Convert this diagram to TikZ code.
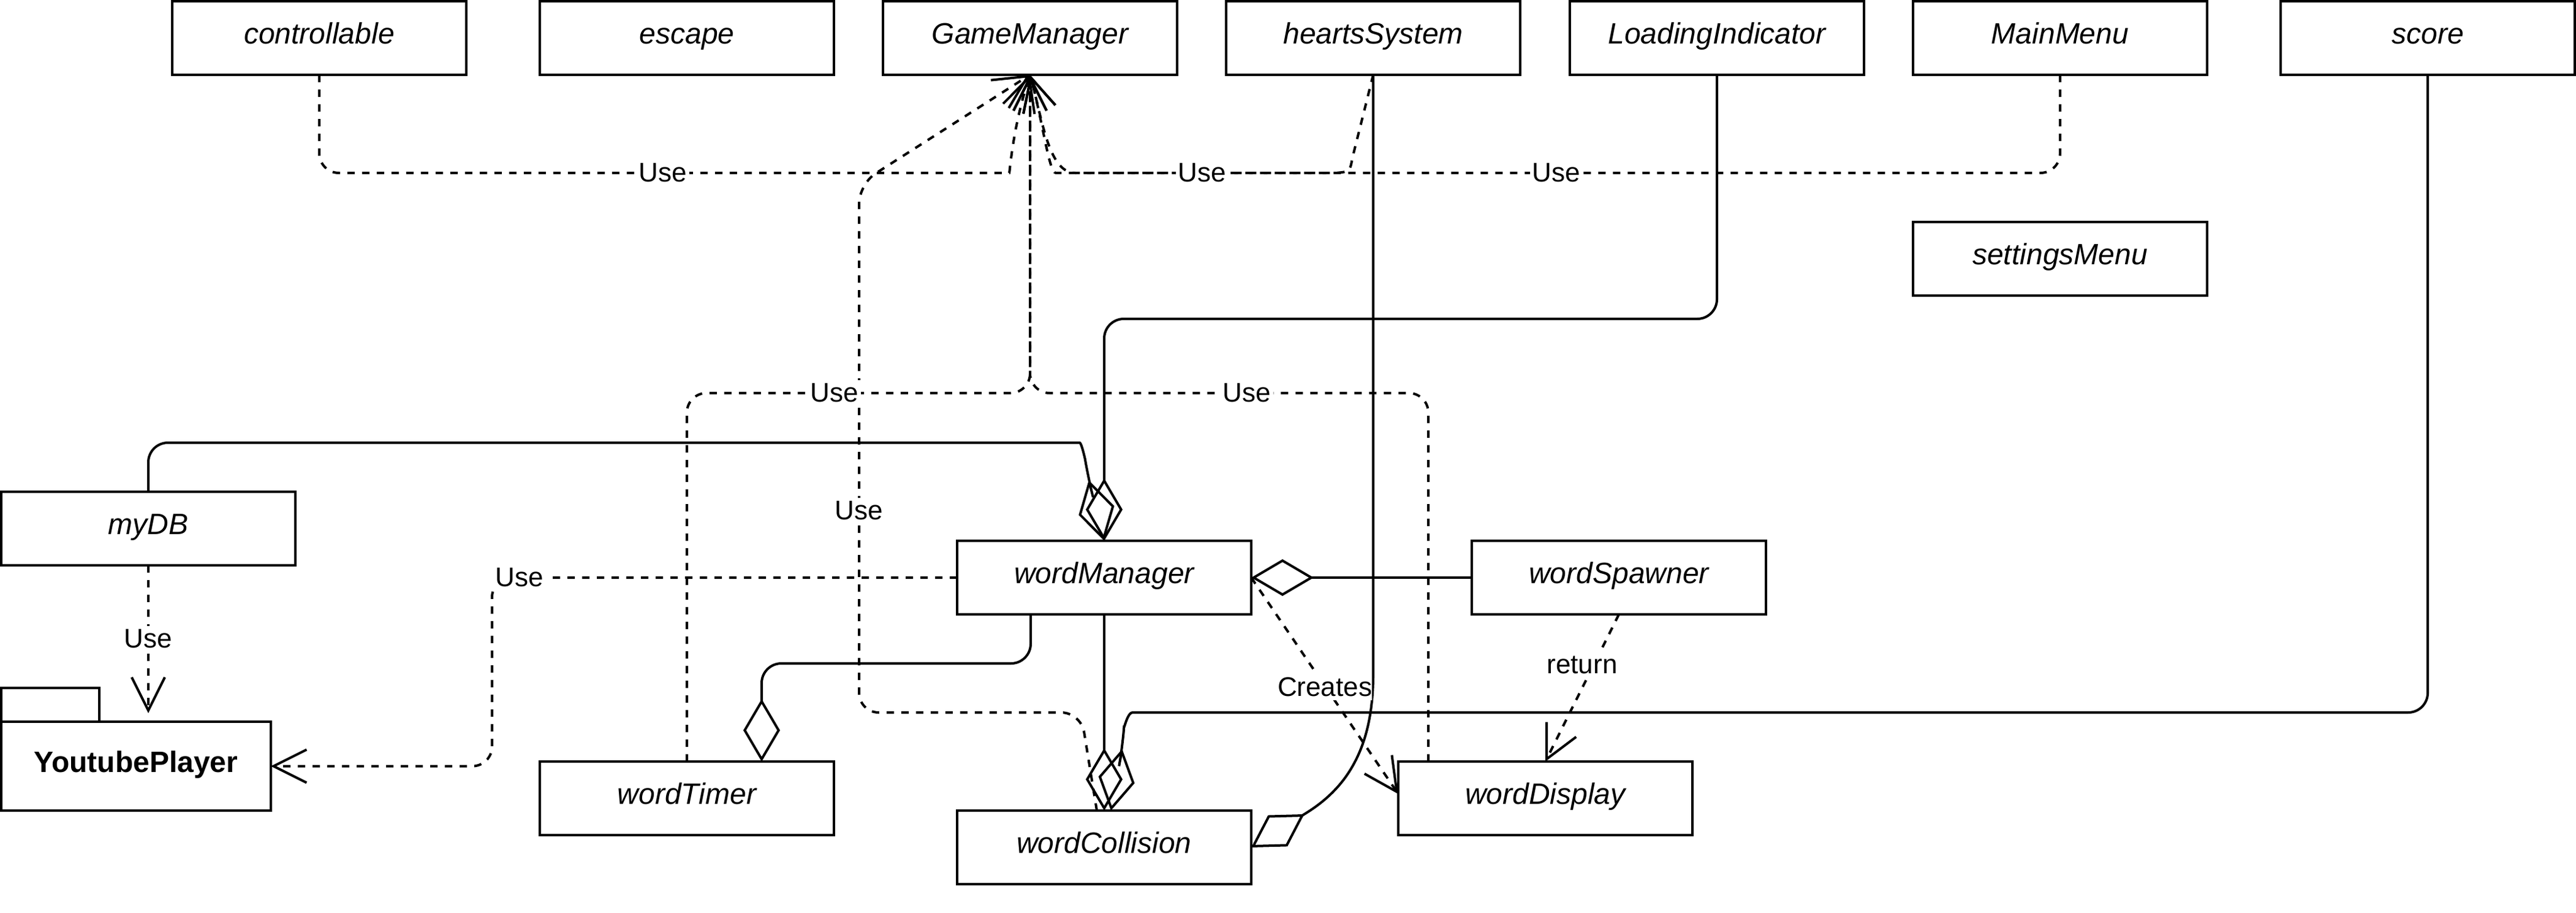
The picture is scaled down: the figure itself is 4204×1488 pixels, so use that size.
\documentclass[tikz,border=0pt]{standalone}
\usepackage{fontspec}
\setmainfont{Liberation Sans}
\usetikzlibrary{arrows.meta,calc}
\tikzset{
  cls/.style={draw, line width=1pt, minimum width=120pt, minimum height=30pt,
    inner sep=0pt, outer sep=0pt, text height=7.8pt, text depth=3pt,
    font=\fontsize{12pt}{14pt}\selectfont\itshape},
  lbl/.style={fill=white, inner xsep=1pt, inner ysep=1.5pt, font=\fontsize{11pt}{13pt}\selectfont},
  dep/.style={draw, line width=1pt, dash pattern=on 3pt off 3pt,
    -{Straight Barb[length=13.5pt,width=13.5pt]}},
  agg/.style={draw, line width=1pt, -{Diamond[open,length=25.5pt,width=15pt]}}
}
\begin{document}
\begin{tikzpicture}[x=0.25pt,y=-0.25pt]
\useasboundingbox (0,0) rectangle (4204,1488);
% classes
\node[cls] (ctrl) at (521,62) {controllable};
\node[cls] (esc) at (1121,62) {escape};
\node[cls] (gm) at (1681,62) {GameManager};
\node[cls] (hs) at (2241,62) {heartsSystem};
\node[cls] (li) at (2802,62) {LoadingIndicator};
\node[cls] (mm) at (3362,62) {MainMenu};
\node[cls] (sc) at (3962,62) {score};
\node[cls] (sm) at (3362,422) {settingsMenu};
\node[cls] (db) at (242,862) {myDB};
\node[cls] (wm) at (1802,942) {wordManager};
\node[cls] (ws) at (2642,942) {wordSpawner};
\node[cls] (wt) at (1121,1302) {wordTimer};
\node[cls] (wd) at (2522,1302) {wordDisplay};
\node[cls] (wc) at (1802,1382) {wordCollision};
% package
\node[draw, line width=1pt, minimum width=110pt, minimum height=36.25pt, inner sep=0pt, outer sep=0pt,
  text height=7.8pt, text depth=3pt,
  font=\fontsize{12pt}{14pt}\selectfont\bfseries] (yp) at (222,1249.5) {YoutubePlayer};
\node[draw, line width=1pt, minimum width=40pt, minimum height=13.75pt, inner sep=0pt, outer sep=0pt,
  anchor=south west] (yptab) at (yp.north west) {};

% dependencies to GameManager
\draw[dep, rounded corners=8pt] (ctrl.south) |- (1615,282) .. controls (1648,282) and (1652,210) .. (gm.south);
\draw[dep] (hs.south) -- (2207,258) .. controls (2203,280) .. (2180,282) -- (1755,282) .. controls (1712,282) and (1702,200) .. (gm.south);
\draw[dep, rounded corners=8pt] (mm.south) |- (1755,282) .. controls (1712,282) and (1702,200) .. (gm.south);
\draw[dep, rounded corners=8pt] (wt.north) |- (1681,641) -- (gm.south);
\draw[dep, rounded corners=8pt] ($(wd.north west)+(49,0)$) |- (1681,641) -- (gm.south);
\draw[dep, rounded corners=8pt] ($(wc.north)+(-12,0)$) -- (1764,1162) -- (1402,1162) -- (1402,300) -- (gm.south);
% other dependencies
\draw[dep] (db.south) -- ($(db.south |- yp.north)+(0,-14)$);
\draw[dep, rounded corners=8pt] (wm.west) -| (803,1249.5) -- (yp.east);
\draw[dep] (ws.south) -- (wd.north);
\draw[dep] (wm.east) -- ($(wd.west)+(0,-7)$);
% aggregations
\draw[agg, rounded corners=8pt] (li.south) |- (1802,520) -- (wm.north);
\draw[agg, rounded corners=8pt] (db.north) |- (1730,722) .. controls (1765,722) and (1771,750) .. (1776,780) -- (wm.north);
\draw[agg, rounded corners=8pt] ($(wm.south)+(-120,0)$) |- (1243,1082) -- ($(wt.north)+(122,0)$);
\draw[agg] (wm.south) -- (wc.north);
\draw[agg, rounded corners=8pt] (sc.south) |- (1880,1162) .. controls (1840,1162) and (1834,1190) .. (1832,1218) -- ($(wc.north)+(11,0)$);
\draw[agg] (hs.south) -- (2241,1100) .. controls (2241,1230) and (2190,1290) .. (2130,1327) -- (wc.east);
\draw[agg] (ws.west) -- (wm.east);

% labels
\node[lbl] (l1) at (1082,282) {Use};
\node[lbl] (l2) at (1962,282) {Use};
\node[lbl] (l3) at (2540,282) {Use};
\node[lbl] (l4) at (1362,641) {Use};
\node[lbl] (l5) at (2035,641) {Use};
\node[lbl] (l6) at (1402,833) {Use};
\node[lbl] (l7) at (242,1042) {Use};
\node[lbl] (l8) at (848,942) {Use};
\node[lbl] (l9) at (2582,1084) {return};
\node[lbl, inner xsep=0pt] (l10) at (2162,1120) {Creates};
\end{tikzpicture}
\end{document}
